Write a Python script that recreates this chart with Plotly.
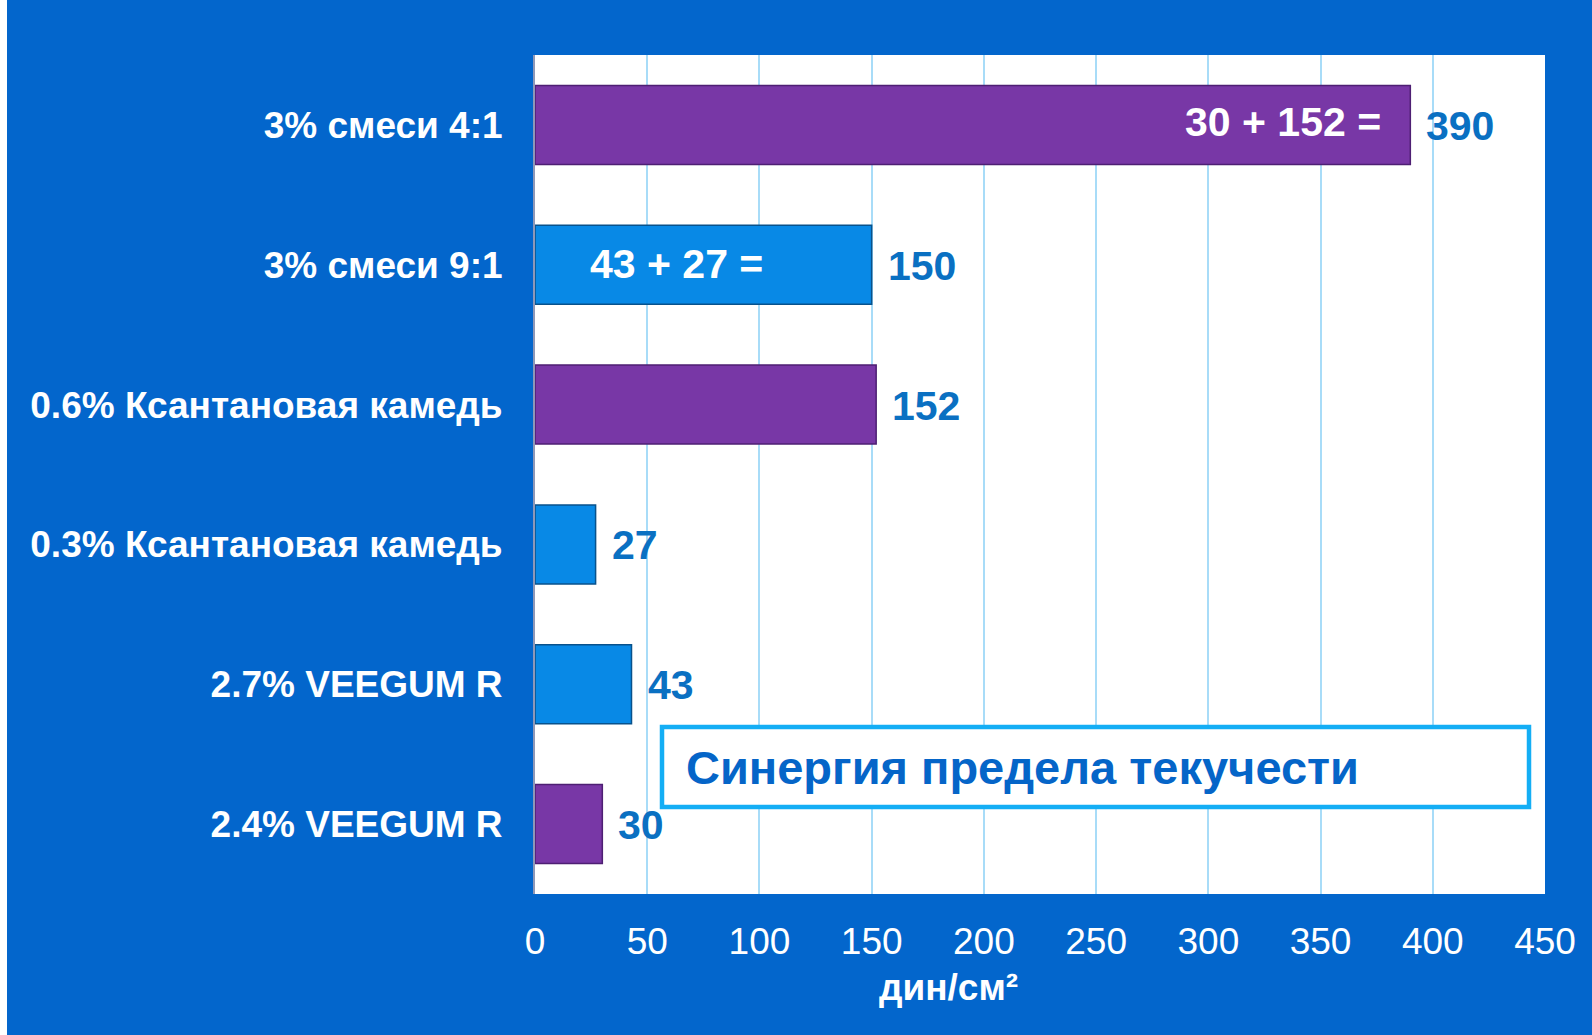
import plotly.graph_objects as go

categories = ["3% смеси 4:1", "3% смеси 9:1", "0.6% Ксантановая камедь",
              "0.3% Ксантановая камедь", "2.7% VEEGUM R", "2.4% VEEGUM R"]
values = [390, 150, 152, 27, 43, 30]
bar_colors = ["#7837A6", "#0889E6", "#7837A6", "#0889E6", "#0889E6", "#7837A6"]
line_colors = ["#4E1F73", "#08528C", "#4E1F73", "#08528C", "#08528C", "#4E1F73"]
inner_labels = {0: "30 + 152 =", 1: "43 + 27 ="}
tick_vals = [0, 50, 100, 150, 200, 250, 300, 350, 400, 450]
x_title = "дин/см²"
box_text = "Синергия предела текучести"

FONT = "Liberation Sans, Arial, sans-serif"
BG = "#0366CC"
VAL_COLOR = "#0A70C2"

W, H = 1592, 1035
L, R, T, B = 535, 1545, 55, 894

fig = go.Figure()
fig.add_trace(go.Bar(
    y=categories, x=values, orientation="h",
    marker=dict(color=bar_colors, line=dict(color=line_colors, width=1.5)),
    width=0.565, hoverinfo="x+y",
))

annotations = []
for i, (c, v) in enumerate(zip(categories, values)):
    annotations.append(dict(
        x=v, y=c, xref="x", yref="y", text=f"<b>{v}</b>", showarrow=False,
        xanchor="left", yanchor="middle", xshift=14, yshift=-1,
        font=dict(family=FONT, size=41, color=VAL_COLOR)))

annotations.append(dict(
    x=values[0], y=categories[0], xref="x", yref="y", text=f"<b>{inner_labels[0]}</b>",
    showarrow=False, xanchor="right", yanchor="middle", xshift=-27, yshift=3,
    font=dict(family=FONT, size=41, color="white")))
annotations.append(dict(
    x=0, y=categories[1], xref="x", yref="y", text=f"<b>{inner_labels[1]}</b>",
    showarrow=False, xanchor="left", yanchor="middle", xshift=53, yshift=1,
    font=dict(family=FONT, size=41, color="white")))

pw, ph = R - L, B - T
def px(x): return (x - L) / pw
def py(y): return (B - y) / ph

annotations.append(dict(
    x=px(948), y=py(988), xref="paper", yref="paper", text=f"<b>{x_title}</b>",
    showarrow=False, xanchor="center", yanchor="middle",
    font=dict(family=FONT, size=37, color="white")))
annotations.append(dict(
    x=px(684), y=py(767), xref="paper", yref="paper", text=f"<b>{box_text}</b>",
    showarrow=False, xanchor="left", yanchor="middle",
    font=dict(family=FONT, size=47, color="#0565C8")))

shapes = [
    dict(type="rect", xref="paper", yref="paper", x0=px(0), x1=px(7), y0=py(H), y1=py(0),
         fillcolor="white", line=dict(width=0), layer="below"),
    dict(type="rect", xref="paper", yref="paper", x0=px(662), x1=px(1529), y0=py(807), y1=py(727),
         fillcolor="white", line=dict(color="#14AEF5", width=4.5), layer="above"),
]

fig.update_layout(
    width=W, height=H,
    margin=dict(l=L, r=W - R, t=T, b=H - B, pad=0),
    paper_bgcolor=BG, plot_bgcolor="white",
    showlegend=False, bargap=0.435,
    annotations=annotations, shapes=shapes,
    xaxis=dict(range=[0, 450], tickvals=tick_vals, showgrid=True, gridcolor="#A8DCF8",
               gridwidth=1.5, zeroline=False, showline=False, ticks="",
               ticklabelstandoff=22,
               tickfont=dict(family=FONT, size=37, color="white")),
    yaxis=dict(autorange="reversed", showgrid=False, zeroline=False, showline=True,
               linecolor="#8E98B8", linewidth=2, ticks="", ticklabelstandoff=23,
               tickfont=dict(family=FONT, size=37, color="white", weight="bold")),
)

fig.write_html("out.html", config={"displayModeBar": False},
               post_script="document.body.style.margin='0';document.body.style.overflow='hidden';")
